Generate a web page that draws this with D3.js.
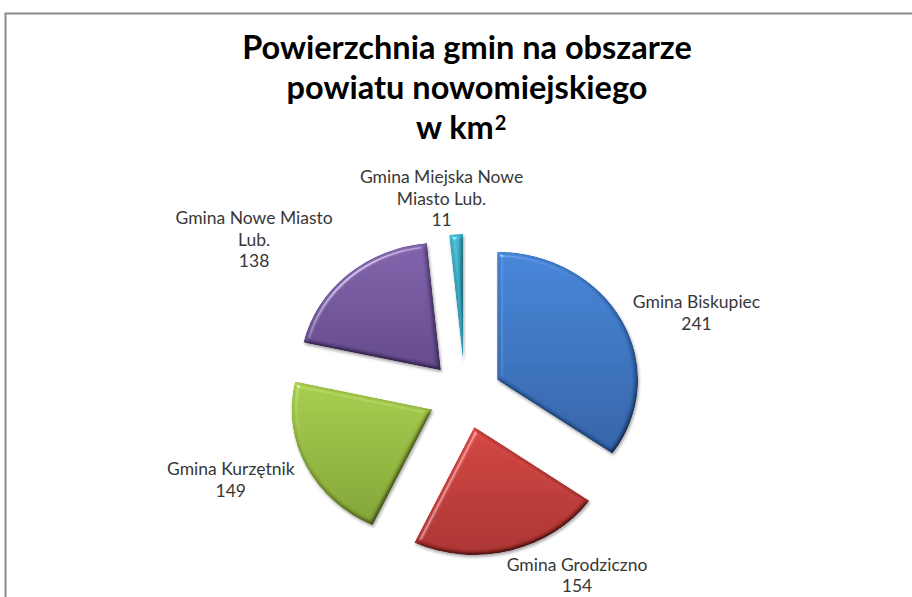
<!DOCTYPE html>
<html>
<head>
<meta charset="utf-8">
<script src="https://cdn.jsdelivr.net/npm/d3@7"></script>
<style>
  body { margin: 0; background: #fff; }
  svg { display: block; }
</style>
</head>
<body>
<svg id="chart" width="912" height="597"></svg>
<script>
// gminy powiatu nowomiejskiego, powierzchnia w km2
const labelLines = [["Gmina Biskupiec"], ["Gmina Grodziczno"], ["Gmina Kurzętnik"], ["Gmina  Nowe Miasto", "Lub."], ["Gmina Miejska Nowe", "Miasto Lub."]]
const areas = [241, 154, 149, 138, 11]
const titleLines = ["Powierzchnia gmin na obszarze", "powiatu nowomiejskiego", "w km"]

const colorsTop = ["#4485d8", "#d4433f", "#a7cd4c", "#8062ab", "#44bad2"]
const colorsBottom = ["#3162a8", "#a9312e", "#82a434", "#62478a", "#2a93ac"]

// label nudges (px) relative to default outside-end placement
const labelShift = [[8, 6], [46, -6], [-8, 0], [-34, -4], [-10, 6]]

const cx = 465, cy = 395, r = 128, explode = 33, stretch = 1.1

let svg = d3.select("#chart")

svg.append("rect")
  .attr("x", 5.5).attr("y", 13.5)
  .attr("width", 1000).attr("height", 1000)
  .attr("fill", "#fff")
  .attr("stroke", "#8a8a8a")
  .attr("stroke-width", 2)

let defs = svg.append("defs")

colorsTop.forEach((c, i) => {
  let g = defs.append("linearGradient")
    .attr("id", "grad" + i)
    .attr("x1", 0).attr("y1", 0).attr("x2", 0).attr("y2", 1)
  g.append("stop").attr("offset", "0%").attr("stop-color", c)
  g.append("stop").attr("offset", "100%").attr("stop-color", colorsBottom[i])
})

let f = defs.append("filter").attr("id", "bevel")
  .attr("x", "-10%").attr("y", "-10%").attr("width", "130%").attr("height", "130%")
f.append("feGaussianBlur").attr("in", "SourceAlpha").attr("stdDeviation", 2.2).attr("result", "blur")
let spec = f.append("feSpecularLighting")
  .attr("in", "blur").attr("surfaceScale", 4).attr("specularConstant", 0.6)
  .attr("specularExponent", 40).attr("lighting-color", "#ffffff").attr("result", "spec")
spec.append("feDistantLight").attr("azimuth", 235).attr("elevation", 40)
f.append("feComposite").attr("in", "spec").attr("in2", "SourceAlpha").attr("operator", "in").attr("result", "specIn")
let diff = f.append("feDiffuseLighting")
  .attr("in", "blur").attr("surfaceScale", 4).attr("diffuseConstant", 1.0)
  .attr("lighting-color", "#ffffff").attr("result", "diff")
diff.append("feDistantLight").attr("azimuth", 235).attr("elevation", 62)
f.append("feComposite").attr("in", "SourceGraphic").attr("in2", "diff")
  .attr("operator", "arithmetic").attr("k1", 1.13).attr("k2", 0).attr("k3", 0).attr("k4", 0).attr("result", "lit")
f.append("feComposite").attr("in", "lit").attr("in2", "specIn")
  .attr("operator", "arithmetic").attr("k1", 0).attr("k2", 1).attr("k3", 0.8).attr("k4", 0).attr("result", "bev")
f.append("feComposite").attr("in", "bev").attr("in2", "SourceAlpha").attr("operator", "in").attr("result", "body")
f.append("feGaussianBlur").attr("in", "SourceAlpha").attr("stdDeviation", 1.6).attr("result", "sh")
f.append("feOffset").attr("in", "sh").attr("dx", 1).attr("dy", 2).attr("result", "sho")
f.append("feComponentTransfer").attr("in", "sho").attr("result", "shf")
  .append("feFuncA").attr("type", "linear").attr("slope", 0.35)
let m = f.append("feMerge")
m.append("feMergeNode").attr("in", "shf")
m.append("feMergeNode").attr("in", "body")

// title
let title = svg.append("text")
  .attr("text-anchor", "middle")
  .attr("font-family", "Lato, 'Open Sans', sans-serif")
  .attr("font-weight", "bold")
  .attr("font-size", 32.5)
  .attr("fill", "#000")

titleLines.forEach((l, i) => {
  title.append("tspan")
    .attr("x", 467)
    .attr("y", 59 + i * 40)
    .text(l)
  if (i === titleLines.length - 1) {
    title.append("tspan")
      .attr("font-size", 20)
      .attr("dx", 1)
      .attr("dy", -9)
      .text("2")
  }
})
// keep the last line centred including the superscript
{
  let spans = title.selectAll("tspan").nodes()
  let sup = spans[spans.length - 1]
  let supW = sup.getComputedTextLength()
  d3.select(spans[spans.length - 2]).attr("x", 467 - supW / 2)
}

let pie = d3.pie().sort(null).startAngle(0).endAngle(2 * Math.PI)
let arcs = pie(areas)
let arc = d3.arc().innerRadius(0).outerRadius(r)

let pieG = svg.append("g")
  .attr("transform", `translate(${cx},${cy}) scale(${stretch},1)`)

pieG.selectAll("path.slice")
  .data(arcs)
  .enter().append("path")
  .attr("class", "slice")
  .attr("d", arc)
  .attr("transform", d => {
    let a = (d.startAngle + d.endAngle) / 2
    return `translate(${explode * Math.sin(a)},${-explode * Math.cos(a)})`
  })
  .attr("fill", (d, i) => `url(#grad${i})`)
  .attr("filter", "url(#bevel)")

// data labels, outside end
let labelG = svg.append("g")
  .attr("font-family", "Lato, 'Open Sans', sans-serif")
  .attr("font-size", 17.5)
  .attr("fill", "#383838")
  .attr("text-anchor", "middle")

arcs.forEach((d, i) => {
  let a = (d.startAngle + d.endAngle) / 2
  let dx = Math.sin(a), dy = -Math.cos(a)
  let R = r + explode + 10
  let px = cx + stretch * R * dx
  let py = cy + R * dy
  let lines = labelLines[i].concat([String(areas[i])])
  let t = labelG.append("text")
  lines.forEach((l, j) => {
    t.append("tspan").attr("x", 0).attr("y", j * 21.5).text(l)
  })
  let bb = t.node().getBBox()
  let w = bb.width, h = bb.height
  let bx = px + dx * w / 2 + labelShift[i][0]
  let by = py + dy * h / 2 + labelShift[i][1]
  t.attr("transform", `translate(${bx},${by - bb.y - h / 2})`)
})
</script>
</body>
</html>
